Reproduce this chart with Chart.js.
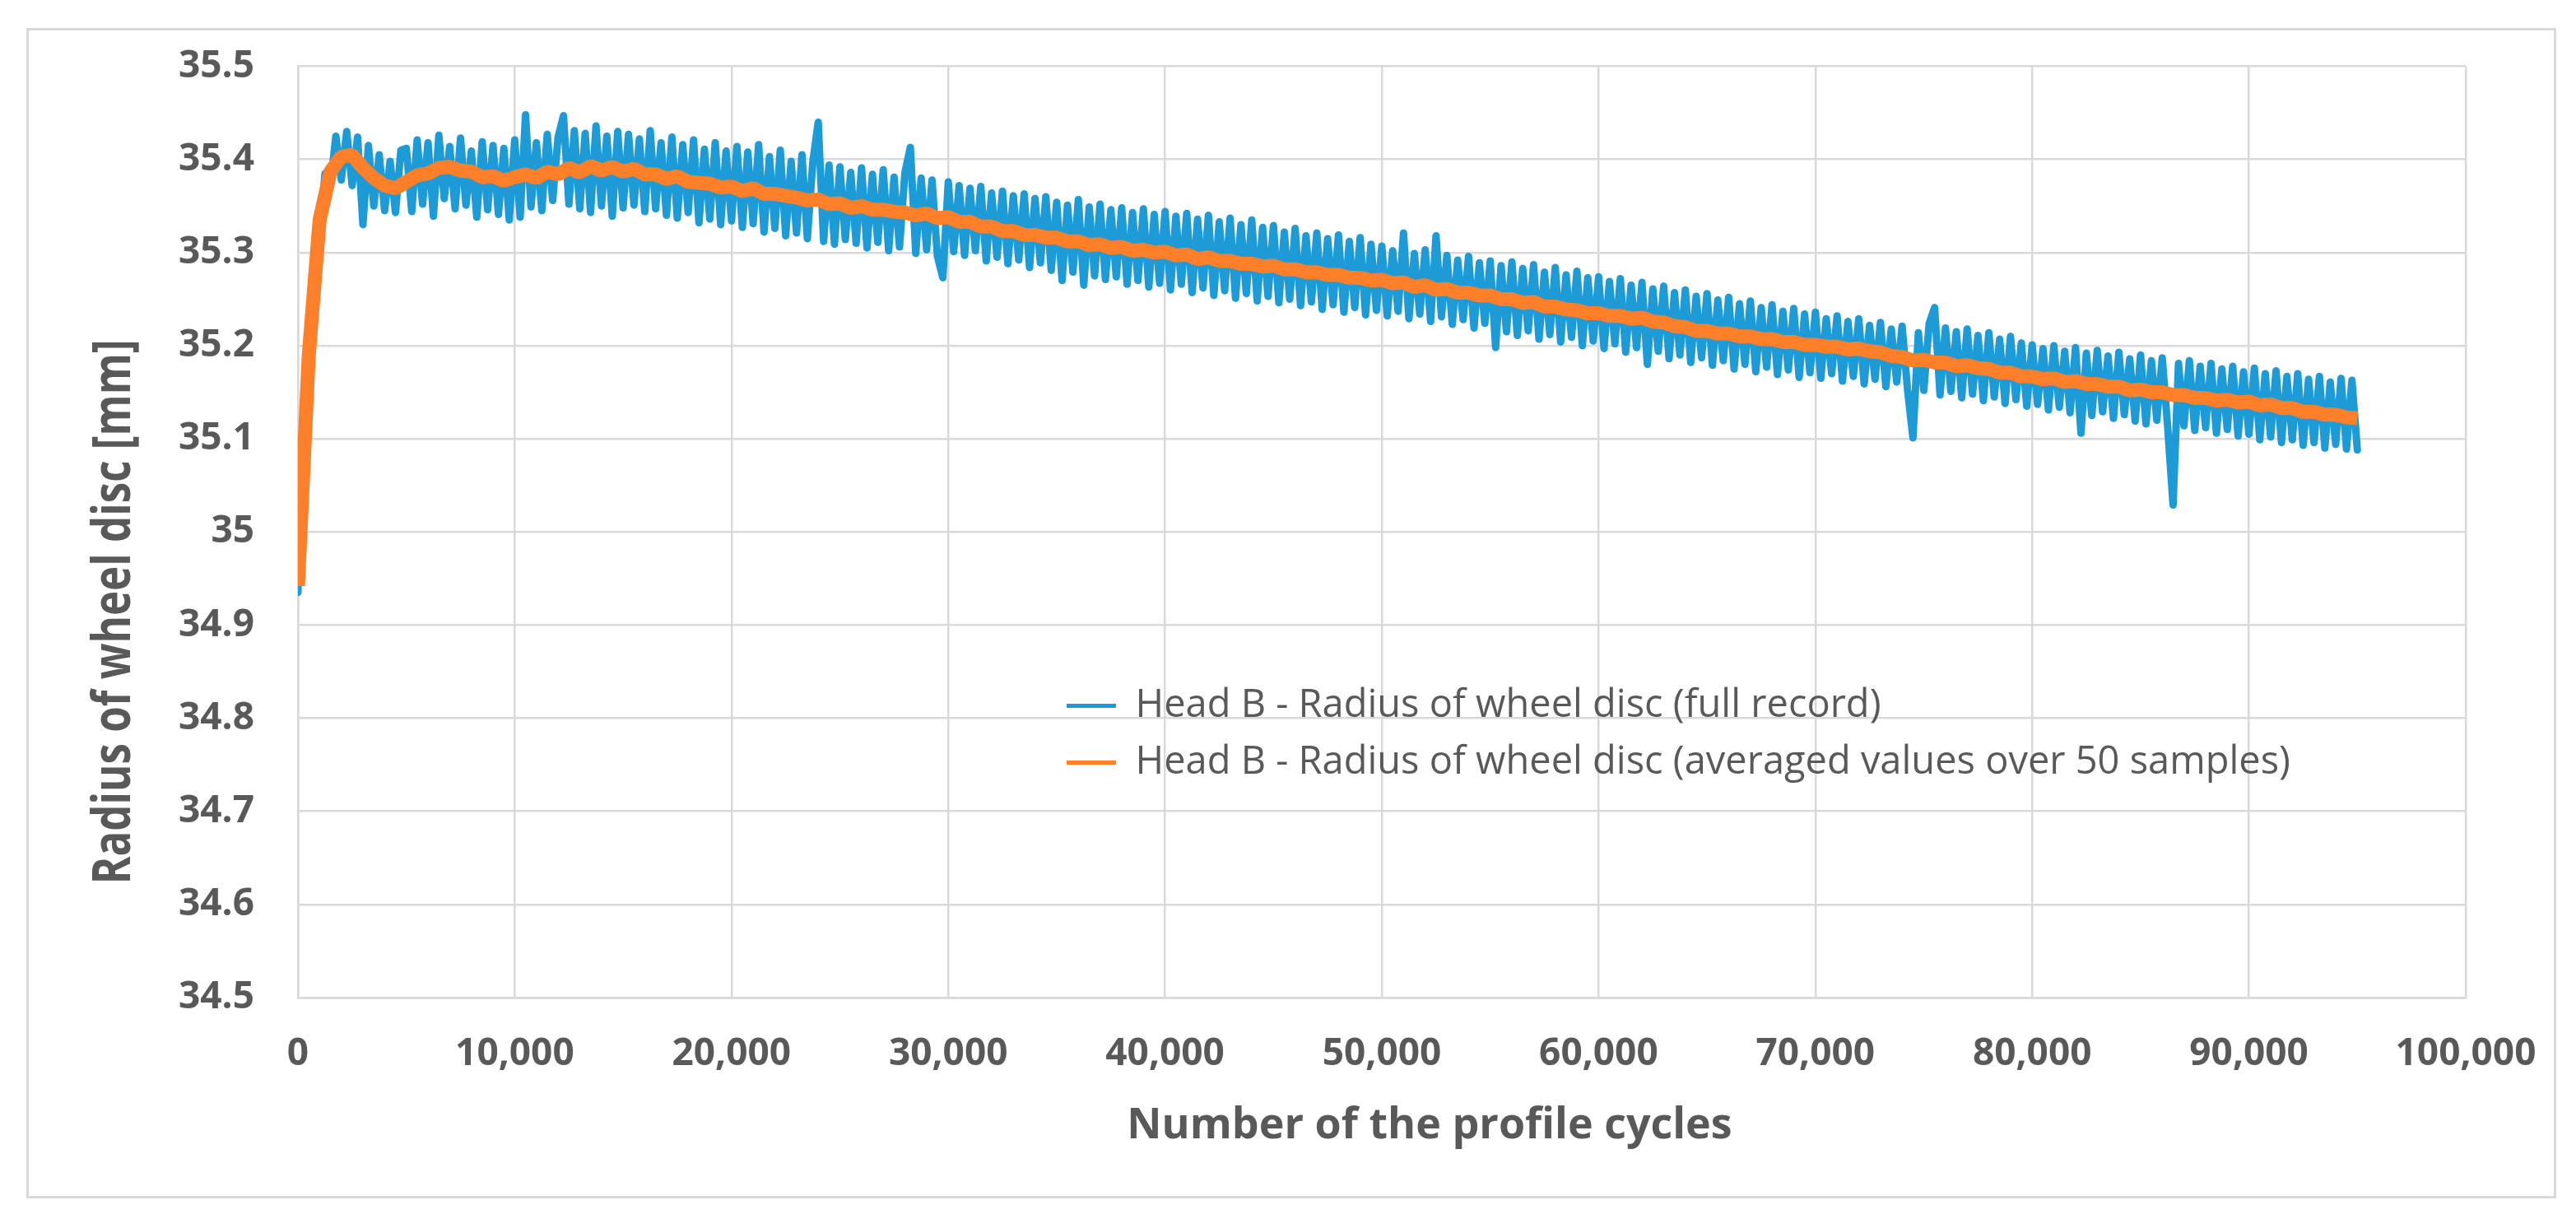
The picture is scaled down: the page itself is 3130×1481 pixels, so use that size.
<!DOCTYPE html>
<html>
<head>
<meta charset="utf-8">
<script src="https://cdn.jsdelivr.net/npm/chart.js@4.4.1/dist/chart.umd.min.js"></script>
<style>
  html, body { margin: 0; padding: 0; background: #ffffff; }
  canvas { display: block; }
</style>
</head>
<body>
<canvas id="c" width="3130" height="1481"></canvas>
<script>
// ---------------- DATA ----------------
const seriesNames = [
  'Head B - Radius of wheel disc (full record)',
  'Head B - Radius of wheel disc (averaged values over 50 samples)'
];
const xAxisTitle = 'Number of the profile cycles';
const yAxisTitle = 'Radius of wheel disc [mm]';

// sampling interval (cycles) of the two records
const fullRecordCycleStep = 250;
const averagedCycleStep = 500;

// full record (mm), one value every 250 cycles, 0 ... 95,000
const fullRecord = [
  34.935, 35.118, 35.170, 35.292, 35.318, 35.385, 35.372, 35.425, 35.378, 35.430, 35.372, 35.424, 35.330, 35.415, 35.350, 35.405, 35.345, 35.398, 35.343, 35.410,
  35.412, 35.344, 35.421, 35.352, 35.418, 35.339, 35.426, 35.358, 35.414, 35.347, 35.423, 35.351, 35.409, 35.338, 35.419, 35.346, 35.415, 35.341, 35.412, 35.335,
  35.421, 35.338, 35.448, 35.349, 35.418, 35.345, 35.427, 35.356, 35.424, 35.447, 35.352, 35.431, 35.347, 35.428, 35.343, 35.436, 35.350, 35.425, 35.339, 35.430,
  35.348, 35.427, 35.351, 35.422, 35.344, 35.431, 35.347, 35.418, 35.340, 35.424, 35.337, 35.416, 35.343, 35.421, 35.332, 35.411, 35.336, 35.418, 35.330, 35.409,
  35.334, 35.414, 35.327, 35.408, 35.331, 35.416, 35.322, 35.403, 35.326, 35.410, 35.318, 35.398, 35.321, 35.405, 35.315, 35.397, 35.440, 35.312, 35.394, 35.309,
  35.392, 35.314, 35.386, 35.310, 35.391, 35.305, 35.384, 35.311, 35.389, 35.302, 35.381, 35.306, 35.386, 35.413, 35.299, 35.380, 35.303, 35.378, 35.296, 35.273,
  35.376, 35.301, 35.372, 35.297, 35.369, 35.302, 35.371, 35.291, 35.364, 35.295, 35.366, 35.288, 35.361, 35.292, 35.363, 35.284, 35.358, 35.289, 35.360, 35.281,
  35.354, 35.270, 35.351, 35.279, 35.357, 35.265, 35.349, 35.275, 35.352, 35.271, 35.346, 35.274, 35.348, 35.266, 35.343, 35.270, 35.347, 35.263, 35.341, 35.267,
  35.344, 35.260, 35.339, 35.266, 35.342, 35.257, 35.336, 35.262, 35.340, 35.254, 35.333, 35.259, 35.337, 35.251, 35.330, 35.256, 35.335, 35.248, 35.327, 35.253,
  35.329, 35.246, 35.322, 35.250, 35.326, 35.243, 35.318, 35.247, 35.321, 35.239, 35.315, 35.244, 35.319, 35.236, 35.312, 35.241, 35.316, 35.233, 35.309, 35.238,
  35.307, 35.232, 35.302, 35.237, 35.321, 35.229, 35.299, 35.234, 35.303, 35.226, 35.318, 35.231, 35.297, 35.223, 35.292, 35.228, 35.296, 35.219, 35.289, 35.224,
  35.291, 35.198, 35.286, 35.215, 35.290, 35.211, 35.283, 35.216, 35.287, 35.207, 35.279, 35.212, 35.284, 35.204, 35.276, 35.209, 35.280, 35.200, 35.273, 35.205,
  35.274, 35.197, 35.269, 35.202, 35.272, 35.193, 35.265, 35.198, 35.268, 35.180, 35.261, 35.194, 35.264, 35.186, 35.257, 35.190, 35.260, 35.182, 35.253, 35.187,
  35.256, 35.179, 35.249, 35.184, 35.252, 35.175, 35.245, 35.180, 35.248, 35.172, 35.241, 35.177, 35.244, 35.169, 35.237, 35.174, 35.240, 35.166, 35.234, 35.171,
  35.236, 35.165, 35.229, 35.170, 35.232, 35.162, 35.226, 35.167, 35.229, 35.159, 35.222, 35.164, 35.225, 35.156, 35.218, 35.161, 35.221, 35.153, 35.101, 35.214,
  35.152, 35.224, 35.241, 35.147, 35.219, 35.151, 35.215, 35.144, 35.218, 35.148, 35.211, 35.141, 35.214, 35.145, 35.207, 35.138, 35.210, 35.142, 35.203, 35.135,
  35.201, 35.137, 35.197, 35.131, 35.200, 35.134, 35.194, 35.128, 35.198, 35.106, 35.192, 35.125, 35.195, 35.129, 35.189, 35.122, 35.193, 35.126, 35.186, 35.119,
  35.190, 35.116, 35.184, 35.120, 35.187, 35.113, 35.029, 35.181, 35.114, 35.184, 35.109, 35.178, 35.112, 35.181, 35.106, 35.175, 35.110, 35.178, 35.103, 35.172,
  35.105, 35.176, 35.099, 35.170, 35.102, 35.173, 35.096, 35.167, 35.099, 35.170, 35.093, 35.164, 35.096, 35.167, 35.090, 35.161, 35.094, 35.165, 35.089, 35.163,
  35.088
];

// averaged values over 50 samples (mm), one value every 500 cycles, 0 ... 95,000
const averagedRecord = [
  34.942, 35.190, 35.335, 35.387, 35.403, 35.405, 35.391, 35.380, 35.372, 35.369,
  35.376, 35.383, 35.385, 35.391, 35.392, 35.388, 35.387, 35.381, 35.382, 35.377,
  35.381, 35.384, 35.380, 35.387, 35.384, 35.391, 35.386, 35.393, 35.388, 35.392,
  35.387, 35.390, 35.384, 35.384, 35.379, 35.382, 35.376, 35.375, 35.374, 35.370,
  35.371, 35.366, 35.369, 35.363, 35.363, 35.361, 35.359, 35.356, 35.357, 35.352,
  35.353, 35.348, 35.350, 35.346, 35.346, 35.344, 35.343, 35.340, 35.342, 35.337,
  35.338, 35.333, 35.333, 35.328, 35.328, 35.323, 35.323, 35.319, 35.319, 35.316,
  35.316, 35.312, 35.312, 35.308, 35.309, 35.305, 35.306, 35.302, 35.303, 35.300,
  35.301, 35.297, 35.298, 35.293, 35.295, 35.291, 35.291, 35.288, 35.288, 35.285,
  35.286, 35.282, 35.282, 35.279, 35.279, 35.276, 35.276, 35.273, 35.273, 35.270,
  35.271, 35.267, 35.268, 35.263, 35.265, 35.260, 35.261, 35.257, 35.257, 35.254,
  35.254, 35.250, 35.250, 35.246, 35.247, 35.242, 35.242, 35.239, 35.238, 35.235,
  35.235, 35.232, 35.232, 35.229, 35.230, 35.226, 35.225, 35.221, 35.220, 35.216,
  35.216, 35.213, 35.213, 35.210, 35.210, 35.207, 35.207, 35.204, 35.204, 35.201,
  35.201, 35.199, 35.199, 35.196, 35.197, 35.194, 35.193, 35.189, 35.188, 35.184,
  35.185, 35.182, 35.182, 35.178, 35.179, 35.176, 35.175, 35.171, 35.171, 35.167,
  35.167, 35.164, 35.165, 35.161, 35.162, 35.159, 35.159, 35.156, 35.156, 35.152,
  35.153, 35.150, 35.150, 35.147, 35.147, 35.144, 35.144, 35.141, 35.142, 35.139,
  35.140, 35.136, 35.137, 35.133, 35.133, 35.129, 35.129, 35.126, 35.126, 35.123,
  35.122
];

// axis ranges / ticks
const xMin = 0, xMax = 100000, xStep = 10000;
const yMin = 34.5, yMax = 35.5, yStep = 0.1;

// ---------------- STYLE ----------------
const BLUE = '#1d9bd7';
const ORANGE = '#fd7f2a';
const TEXT = '#595959';
const GRID = '#d9d9d9';

const fullPoints = fullRecord.map((v, i) => ({ x: i * fullRecordCycleStep, y: v }));
const avgPoints = averagedRecord.map((v, i) => ({ x: i * averagedCycleStep, y: v }));

const framePlugin = {
  id: 'frame',
  beforeDraw(chart) {
    const ctx = chart.ctx;
    ctx.save();
    ctx.fillStyle = '#ffffff';
    ctx.fillRect(0, 0, chart.width, chart.height);
    ctx.strokeStyle = GRID;
    ctx.lineWidth = 3;
    ctx.strokeRect(33.5, 35.5, 3071, 1419);
    ctx.restore();
  }
};

// place the legend inside the plot area and nudge the axis titles like the original
const placer = {
  id: 'placer',
  afterUpdate(chart) {
    const lg = chart.legend;
    if (lg) {
      const tx = 1274, ty = 812;
      const dx = tx - lg.left, dy = ty - lg.top;
      (lg.legendHitBoxes || []).forEach(h => { h.left += dx; h.top += dy; });
      lg.left = tx; lg.top = ty;
      lg.right = tx + 1700; lg.bottom = ty + 220;
    }
    const ys = chart.scales.y;
    if (ys && !ys._titleWrapped) {
      const orig = ys.drawTitle;
      ys.drawTitle = function () {
        const ctx = this.ctx;
        const cx = 140, cy = (this.top + this.bottom) / 2;
        ctx.save();
        ctx.translate(cx, cy + 97);
        ctx.scale(1.28, 1);
        ctx.translate(-cx, -cy);
        orig.call(this);
        ctx.restore();
      };
      ys._titleWrapped = true;
    }
    const xs = chart.scales.x;
    if (xs && !xs._titleWrapped) {
      const origX = xs.drawTitle;
      xs.drawTitle = function () {
        const ctx = this.ctx;
        ctx.save();
        ctx.translate(58, 0);
        origX.call(this);
        ctx.restore();
      };
      xs._titleWrapped = true;
    }
  }
};

new Chart(document.getElementById('c'), {
  type: 'line',
  data: {
    datasets: [
      {
        label: seriesNames[0],
        data: fullPoints,
        borderColor: BLUE,
        backgroundColor: BLUE,
        borderWidth: 9,
        borderJoinStyle: 'round',
        borderCapStyle: 'round',
        pointRadius: 0,
        tension: 0,
        order: 1
      },
      {
        label: seriesNames[1],
        data: avgPoints,
        borderColor: ORANGE,
        backgroundColor: ORANGE,
        borderWidth: 17,
        borderJoinStyle: 'bevel',
        pointRadius: 0,
        tension: 0,
        order: 0
      }
    ]
  },
  options: {
    responsive: false,
    devicePixelRatio: 1,
    animation: false,
    events: [],
    layout: { padding: { left: 0, right: 134, top: 76, bottom: 0 } },
    scales: {
      x: {
        type: 'linear',
        min: xMin, max: xMax,
        afterFit(s) { s.height = 269; },
        grid: { color: GRID, lineWidth: 2.5, drawTicks: false },
        border: { color: GRID, width: 2.5 },
        ticks: {
          stepSize: xStep,
          autoSkip: false,
          maxRotation: 0,
          padding: 41,
          color: TEXT,
          font: { family: 'Open Sans', size: 46, weight: 'bold' },
          callback: v => Number(v).toLocaleString('en-US')
        },
        title: {
          display: true,
          text: xAxisTitle,
          color: TEXT,
          font: { family: 'Open Sans', size: 52, weight: 'bold' },
          padding: { top: 0, bottom: 82 }
        }
      },
      y: {
        type: 'linear',
        min: yMin, max: yMax,
        afterFit(s) { s.width = 362; },
        grid: { color: GRID, lineWidth: 2.5, drawTicks: false },
        border: { color: GRID, width: 2.5 },
        ticks: {
          stepSize: yStep,
          padding: 53,
          color: TEXT,
          font: { family: 'Open Sans', size: 46, weight: 'bold' },
          callback: v => String(Number(Number(v).toFixed(1)))
        },
        title: {
          display: true,
          text: yAxisTitle,
          color: TEXT,
          font: { family: 'Open Sans', size: 51, weight: 'bold' },
          padding: { top: 109, bottom: 0 }
        }
      }
    },
    plugins: {
      tooltip: { enabled: false },
      legend: {
        position: 'chartArea',
        align: 'start',
        labels: {
          boxWidth: 60,
          boxHeight: 5,
          padding: 22,
          color: TEXT,
          font: { family: 'Open Sans', size: 47 },
          sort: (a, b) => a.datasetIndex - b.datasetIndex,
          generateLabels(chart) {
            const items = Chart.defaults.plugins.legend.labels.generateLabels(chart);
            items.forEach(it => { it.lineWidth = 0; });
            return items;
          }
        }
      }
    }
  },
  plugins: [framePlugin, placer]
});
</script>
</body>
</html>
